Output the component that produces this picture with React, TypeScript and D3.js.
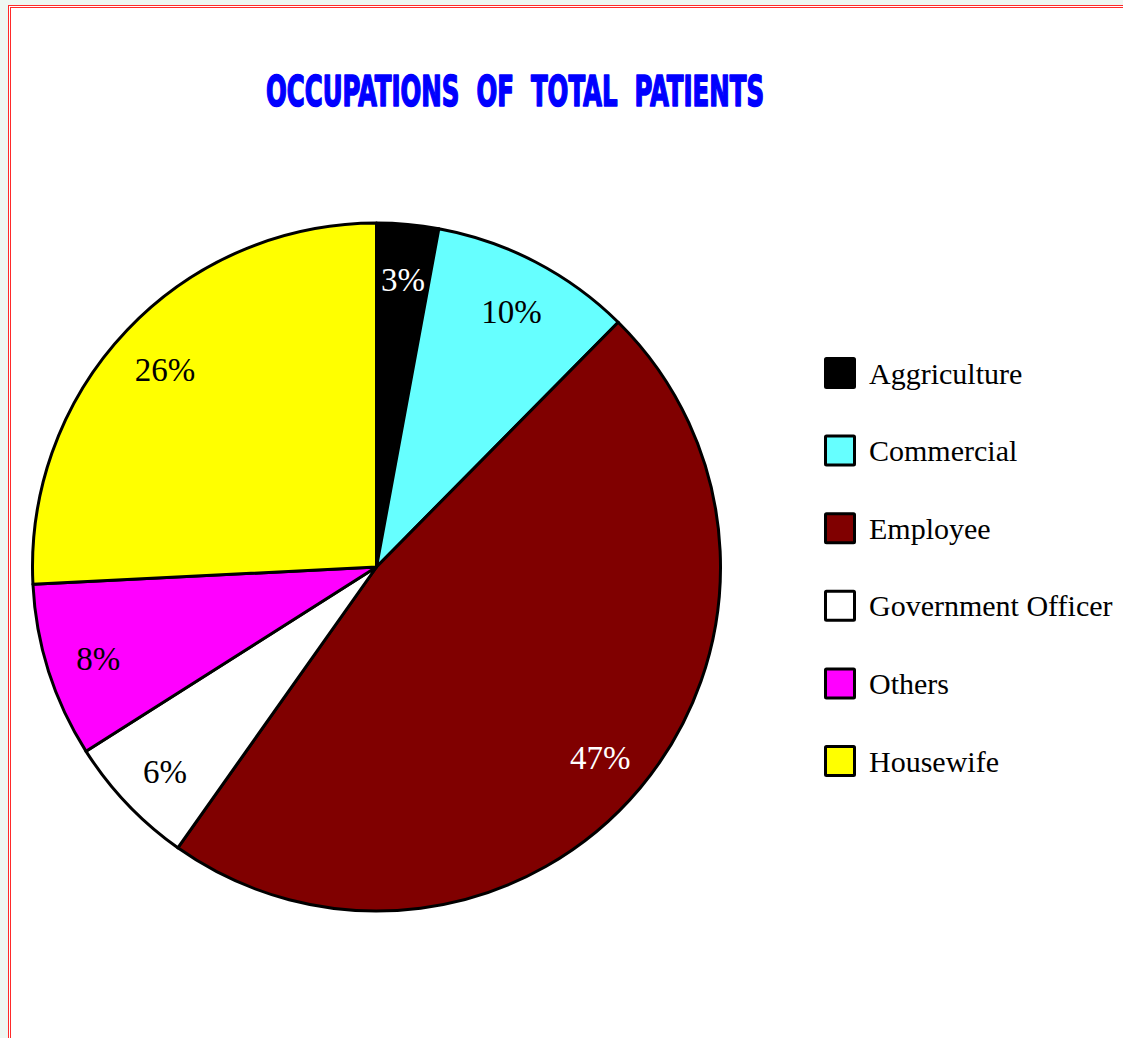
import React from "react";
import * as d3 from "d3";

const categories = ["Aggriculture", "Commercial", "Employee", "Government Officer", "Others", "Housewife"];
const values = [2.9, 9.5, 47.4, 6.2, 8.2, 25.8];
const colors = ["#000000", "#66ffff", "#800000", "#ffffff", "#ff00ff", "#ffff00"];
const labelColors = ["#ffffff", "#000000", "#ffffff", "#000000", "#000000", "#000000"];
const title = "OCCUPATIONS  OF  TOTAL  PATIENTS";

const W = 1123;
const H = 1038;
const cx = 376.5;
const cy = 567;
const R = 344;

export default function App() {
  const total = d3.sum(values);
  const pie = d3.pie<number>().sort(null).value((d) => d)(values);
  const arc = d3.arc<d3.PieArcDatum<number>>().innerRadius(0).outerRadius(R);
  const labelArc = d3.arc<d3.PieArcDatum<number>>().innerRadius(292).outerRadius(292);
  const legendY = d3.scalePoint<string>().domain(categories).range([373, 761]);

  return (
    <svg
      width={W}
      height={H}
      style={{ position: "absolute", left: 0, top: 0, display: "block" }}
    >
      <rect x={0} y={0} width={W} height={H} fill="#eef7f2" />
      <rect x={8} y={5} width={W} height={H} fill="#ffffff" />
      <rect x={8} y={5} width={1} height={H} fill="#ff2a2a" />
      <rect x={10} y={7} width={1} height={H} fill="#ff2a2a" />
      <rect x={8} y={5} width={W} height={1} fill="#ff2a2a" />
      <rect x={10} y={7} width={W} height={1} fill="#ff2a2a" />

      <text
        x={515}
        y={106}
        textAnchor="middle"
        fill="#0000ff"
        stroke="#0000ff"
        strokeWidth={1.6}
        strokeLinejoin="round"
        fontFamily="'DejaVu Sans Condensed', 'Liberation Sans Narrow', sans-serif"
        fontWeight="bold"
        fontSize={42}
        textLength={498}
        lengthAdjust="spacingAndGlyphs"
        style={{ whiteSpace: "pre" }}
      >
        {title}
      </text>

      <g transform={`translate(${cx},${cy})`}>
        {pie.map((p, i) => (
          <path
            key={i}
            d={arc(p) || ""}
            fill={colors[i]}
            stroke="#000"
            strokeWidth={3}
            strokeLinejoin="round"
          />
        ))}
        {pie.map((p, i) => {
          const [lx, ly] = labelArc.centroid(p);
          return (
            <text
              key={"l" + i}
              x={lx}
              y={ly}
              dy="0.45em"
              textAnchor="middle"
              fill={labelColors[i]}
              fontFamily="'Liberation Serif', 'Times New Roman', serif"
              fontSize={33}
            >
              {Math.round((values[i] / total) * 100) + "%"}
            </text>
          );
        })}
      </g>

      {categories.map((c, i) => (
        <g key={c} transform={`translate(0,${legendY(c)})`}>
          <rect x={825.5} y={-14.5} width={29} height={29} fill={colors[i]} stroke="#000" strokeWidth={3} rx={1} />
          <text
            x={869}
            y={0}
            dy="0.35em"
            fill="#000"
            fontFamily="'Liberation Serif', 'Times New Roman', serif"
            fontSize={30}
          >
            {c}
          </text>
        </g>
      ))}
    </svg>
  );
}
